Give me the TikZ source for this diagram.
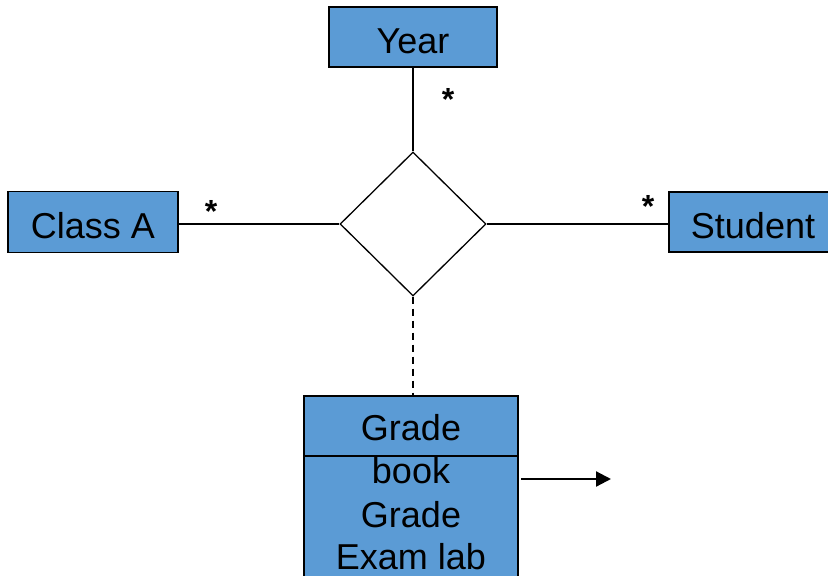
\documentclass[tikz,border=0pt]{standalone}
\usepackage{fontspec}
\setmainfont{Liberation Sans}
\usetikzlibrary{shapes.geometric,arrows.meta}
\definecolor{boxblue}{HTML}{5B9BD5}
\begin{document}
\begin{tikzpicture}[x=1pt,y=-1pt,
  entity/.style={draw=black, line width=1.4pt, fill=boxblue, minimum width=168pt, minimum height=60pt, inner sep=0pt, font=\fontsize{36}{40}\selectfont, text height=32pt, text depth=0pt},
  rel/.style={draw=black, line width=1.3pt, diamond, minimum width=146pt, minimum height=144pt, inner sep=0pt},
  conn/.style={line width=1.3pt},
  mult/.style={font=\fontsize{32}{32}\selectfont\bfseries, inner sep=0pt},
  txt/.style={font=\fontsize{36}{40}\selectfont, inner sep=0pt, anchor=base}
]
\useasboundingbox (0,0) rectangle (828,576);
\clip (0,0) rectangle (828,576);
\node[entity] (year) at (413,37) {Year};
\node[entity, minimum width=170pt, minimum height=61pt] (classa) at (93,222) {Class A};
\node[entity] (student) at (753,222) {Student};
\node[rel] (d) at (413,224) {};
\node[draw=black, line width=1.4pt, fill=boxblue, minimum width=214pt, minimum height=200pt, inner sep=0pt] (grade) at (411,496) {};
\coordinate (divl) at (304,456);
\coordinate (divr) at (518,456);
\draw[conn] (divl) -- (divr);
\node[txt] (g1) at (411,440) {Grade};
\node[txt] (g2) at (411,483) {book};
\node[txt] (g3) at (411,527) {Grade};
\node[txt] (g4) at (411,569) {Exam lab};
\draw[conn] (year) -- (d.north);
\draw[conn] (classa.east |- d.west) -- (d.west);
\draw[conn] (d.east) -- (d.east -| student.west);
\draw[conn, line width=1.4pt, dash pattern=on 7pt off 5pt] (d.south) -- (d.south |- grade.north);
\coordinate (as) at (521,479);
\coordinate (ae) at (611,479);
\draw[line width=2.2pt, -{Triangle[length=15pt,width=15pt]}] (as) -- (ae);
\node[mult] (s1) at (448,99) {*};
\node[mult] (s2) at (211,211) {*};
\node[mult] (s3) at (648,206) {*};
\end{tikzpicture}
\end{document}
